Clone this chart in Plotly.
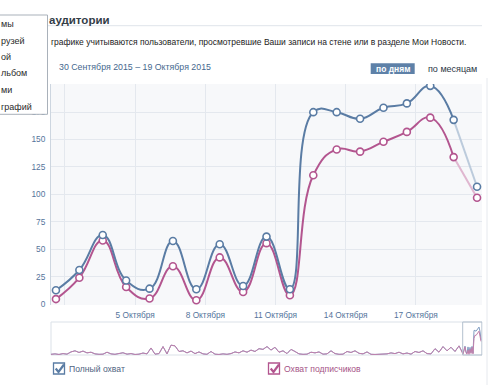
import plotly.graph_objects as go
import pandas as pd

# ---------------- data ----------------
days = ["2015-10-01", "2015-10-02", "2015-10-03", "2015-10-04", "2015-10-05",
        "2015-10-06", "2015-10-07", "2015-10-08", "2015-10-09", "2015-10-10",
        "2015-10-11", "2015-10-12", "2015-10-13", "2015-10-14", "2015-10-15",
        "2015-10-16", "2015-10-17", "2015-10-18", "2015-10-19"]
full_reach = [12.5, 31, 63, 21.5, 14, 57.5, 13.5, 54.5, 16.5, 61.5,
              13.5, 175, 175, 169, 179, 183, 199, 168, 107]
subs_reach = [4.5, 24, 58, 15.5, 5, 34.5, 3.5, 42.5, 11, 55.5,
              8, 117.5, 141, 139, 148, 157, 170, 134, 97]

y_ticks = [0, 25, 50, 75, 100, 125, 150, 175]
y_tick_labels = ["0", "25", "50", "75", "100", "125", "150", "175"]
x_tick_dates = ["2015-10-02", "2015-10-05", "2015-10-08", "2015-10-11",
                "2015-10-14", "2015-10-17"]
x_tick_labels = ["", "5 Октября", "8 Октября", "11 Октября", "14 Октября",
                 "17 Октября"]

# overview (navigator) history, one value every 4 days before the period
history = [5, 8, 4, 10, 6, 22, 30, 18, 28, 15, 20, 8, 5, 6, 20, 8, 5,
           12, 16, 6, 10, 4, 6, 14, 8, 50, 6, 10, 60, 8, 70, 65,
           25, 30, 15, 28, 10, 22, 8, 5, 25, 6, 4, 8, 5, 10,
           22, 15, 30, 20, 35, 25, 45, 40, 60, 35, 55, 20, 30, 10, 40,
           25, 8, 5, 6, 20, 15, 22, 6, 8, 30, 10, 5, 6, 25, 18, 30, 12,
           8, 22, 5, 4, 6, 5, 8, 15, 10, 20, 8, 14, 6, 25, 18, 30,
           10, 8, 45, 20, 60, 30, 55, 25, 65]

legend_names = ["Полный охват", "Охват подписчиков"]
menu_items = ["мы", "рузей", "ой", "льбом", "ми", "графий"]

# ---------------- style ----------------
BLUE = "#5a7ca4"
PINK = "#b3558f"
BLUE_FADE = "#bccbdc"
PINK_FADE = "#e0b7d0"
TXT_BLUE = "#54749b"
FONT = "Liberation Sans"

W, H = 500, 385
ML, MR, MT, MB = 51, 18, 84, 30
PW, PH = W - ML - MR, H - MT - MB


def px(x):
    return (x - ML) / PW


def py(y):
    return (H - MB - y) / PH


x_time = pd.to_datetime(days) + pd.Timedelta(hours=14, minutes=45)

fig = go.Figure()

# faded last (incomplete) segment
fig.add_trace(go.Scatter(x=x_time[-2:], y=full_reach[-2:], mode="lines",
                         line=dict(color=BLUE_FADE, width=2),
                         hoverinfo="skip", showlegend=False))
fig.add_trace(go.Scatter(x=x_time[-2:], y=subs_reach[-2:], mode="lines",
                         line=dict(color=PINK_FADE, width=2),
                         hoverinfo="skip", showlegend=False))

for vals, col, name in [(subs_reach, PINK, legend_names[1]),
                        (full_reach, BLUE, legend_names[0])]:
    fig.add_trace(go.Scatter(x=x_time[:-1], y=vals[:-1], mode="lines",
                             line=dict(color=col, width=2, shape="spline",
                                       smoothing=1.3),
                             name=name, showlegend=False))
    fig.add_trace(go.Scatter(x=x_time, y=vals, mode="markers",
                             marker=dict(size=7, color="white",
                                         line=dict(color=col, width=1.6)),
                             name=name, showlegend=False))

# navigator
nav_x = [4 * i for i in range(len(history))] + [412 + j for j in range(len(days))]
for vals, col in [(full_reach, "#7f9dc2"), (subs_reach, "#c27fab")]:
    fig.add_trace(go.Scatter(x=nav_x, y=history + vals, mode="lines",
                             line=dict(color=col, width=1),
                             xaxis="x2", yaxis="y2", hoverinfo="skip",
                             showlegend=False))

main_dom = [py(305), 1]
nav_dom = [py(355), py(322)]

fig.update_layout(
    width=W, height=H,
    margin=dict(l=ML, r=MR, t=MT, b=MB, pad=0),
    paper_bgcolor="white", plot_bgcolor="rgba(0,0,0,0)",
    font=dict(family=FONT, size=9, color=TXT_BLUE),
    xaxis=dict(type="date", range=["2015-10-01 09:40", "2015-10-19 19:50"],
               tickvals=x_tick_dates, ticktext=x_tick_labels,
               showgrid=True, gridcolor="#e4e8ee", gridwidth=1,
               zeroline=False, showline=False, ticks="outside", ticklen=2,
               tickcolor="rgba(0,0,0,0)",
               tickfont=dict(size=8.3, color=TXT_BLUE),
               domain=[0, 1], anchor="y", fixedrange=True),
    yaxis=dict(range=[-0.9, 200.7], tickvals=y_ticks, ticktext=y_tick_labels,
               showgrid=True, gridcolor="#e4e8ee", gridwidth=1,
               zeroline=False, showline=True, linecolor="#cdd6e0",
               ticks="outside", ticklen=3, tickcolor="rgba(0,0,0,0)",
               tickfont=dict(size=8.3, color=TXT_BLUE),
               domain=main_dom, anchor="x", fixedrange=True),
    xaxis2=dict(range=[0, 431], showgrid=False, zeroline=False,
                showticklabels=False, ticks="", domain=[0, 1], anchor="y2",
                fixedrange=True),
    yaxis2=dict(range=[0, 235], showgrid=False, zeroline=False,
                showticklabels=False, ticks="", domain=nav_dom, anchor="x2",
                fixedrange=True),
    hovermode=False,
)

shapes = []
# main plot background
shapes.append(dict(type="rect", xref="x domain", yref="y domain", x0=0, x1=1,
                   y0=0, y1=1, fillcolor="#f7f8fa", line=dict(width=0),
                   layer="below"))
# navigator frame
shapes.append(dict(type="rect", xref="x2 domain", yref="y2 domain", x0=0, x1=1,
                   y0=0, y1=1, fillcolor="rgba(0,0,0,0)",
                   line=dict(color="#dbe1e8", width=1), layer="below"))
# navigator selection
shapes.append(dict(type="rect", xref="x2", yref="y2 domain", x0=411.7, x1=431,
                   y0=0, y1=1, fillcolor="rgba(0,0,0,0)",
                   line=dict(color="#b3c0ce", width=1), layer="above"))
# separator under title
shapes.append(dict(type="line", xref="paper", yref="paper", x0=px(48), x1=px(482),
                   y0=py(25.7), y1=py(25.7), line=dict(color="#dfe4ea", width=1)))
# page right border
shapes.append(dict(type="line", xref="paper", yref="paper", x0=px(487), x1=px(487),
                   y0=py(78), y1=py(385), line=dict(color="#e6e9ee", width=1)))
# "по дням" button
shapes.append(dict(type="rect", xref="paper", yref="paper", x0=px(370.7),
                   x1=px(414.7), y0=py(74), y1=py(63.3), fillcolor="#5e81a8",
                   line=dict(width=0), layer="above"))
# dropdown popup
shapes.append(dict(type="rect", xref="paper", yref="paper", x0=px(-2),
                   x1=px(47.5), y0=py(114.3), y1=py(15), fillcolor="white",
                   line=dict(color="#a9b1ba", width=1), layer="above"))
# checkboxes
for x0, col in [(53.5, BLUE), (268.5, PINK)]:
    shapes.append(dict(type="rect", xref="paper", yref="paper", x0=px(x0),
                       x1=px(x0 + 11), y0=py(374), y1=py(363), fillcolor="white",
                       line=dict(color=col, width=1.3), layer="above"))
    path = "M {} {} L {} {} L {} {}".format(px(x0 + 2.2), py(368.5),
                                            px(x0 + 5), py(372),
                                            px(x0 + 10.5), py(364.5))
    shapes.append(dict(type="path", xref="paper", yref="paper", path=path,
                       line=dict(color=col, width=2.2), layer="above"))

ann = []


def text(x, y, s, size, color, bold=False, anchor="left"):
    ann.append(dict(xref="paper", yref="paper", x=px(x), y=py(y),
                    xanchor=anchor, yanchor="middle", showarrow=False,
                    borderpad=0,
                    text=("<b>%s</b>" % s) if bold else s,
                    font=dict(family=FONT, size=size, color=color)))


text(47.5, 20, "аудитории", 11.5, "#333d47", bold=True)
text(49.5, 42.5, "графике учитываются пользователи, просмотревшие Ваши записи "
     "на стене или в разделе Мои Новости.", 8.5, "#222222")
text(58, 67, "30 Сентября 2015 – 19 Октября 2015", 8.8, "#45688e")
text(392.7, 68.7, "по дням", 8.5, "white", bold=True, anchor="center")
text(427, 68.7, "по месяцам", 9, "#2b3645")
for yy, s in zip([24.3, 41, 56.7, 73.3, 90, 106.7], menu_items):
    text(-0.5, yy, s, 9, "#2a2a2a")
text(67.5, 369, legend_names[0], 8.6, "#4f6482")
text(283, 369, legend_names[1], 8.6, "#a65487")

fig.update_layout(shapes=shapes, annotations=ann)
fig.write_html("out.html",
               config={"displayModeBar": False, "staticPlot": True},
               post_script="document.body.style.margin='0';"
                           "document.body.style.overflow='hidden';")
